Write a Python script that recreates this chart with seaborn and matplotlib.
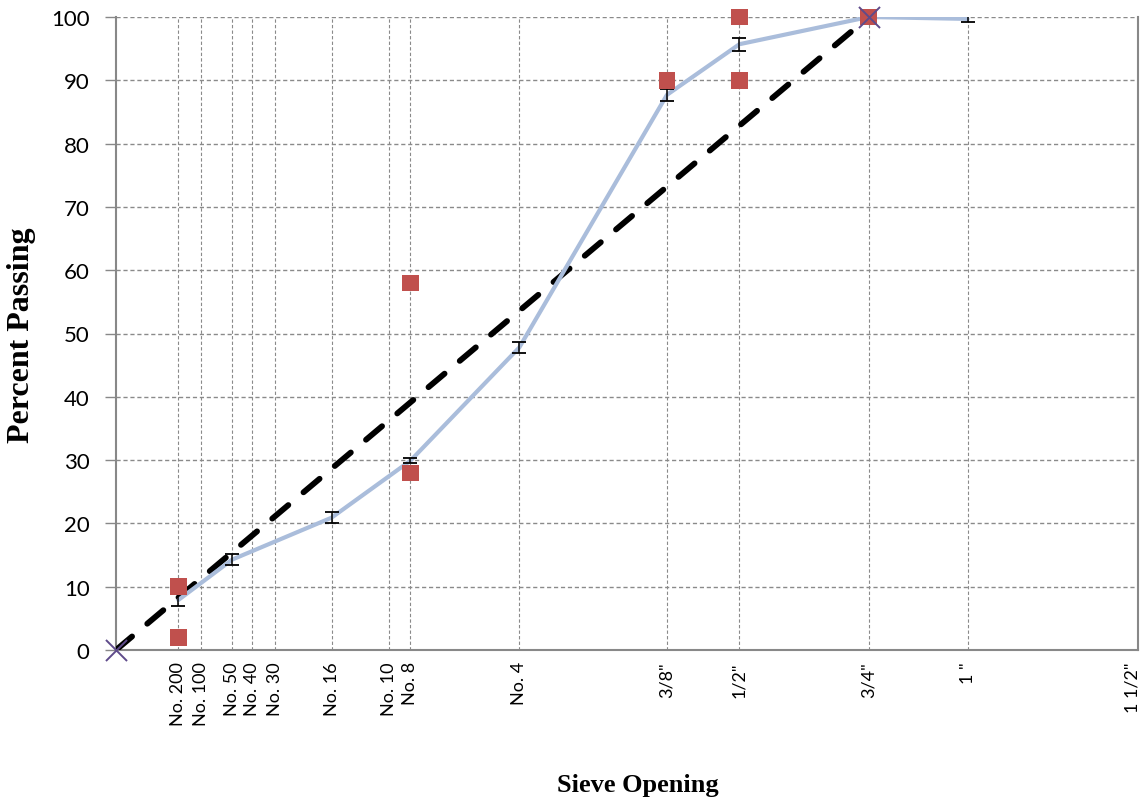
import numpy as np
import pandas as pd
import matplotlib
matplotlib.use("Agg")
import matplotlib.pyplot as plt
import matplotlib.transforms as mtransforms
import seaborn as sns

# Sieve sizes (mm) and their labels
sieve_labels = ["No. 200", "No. 100", "No. 50", "No. 40", "No. 30", "No. 16",
                "No. 10", "No. 8", "No. 4", '3/8"', '1/2"', '3/4"', '1 "', '1 1/2"']
sieve_mm = [0.075, 0.15, 0.3, 0.425, 0.6, 1.18, 2.0, 2.36, 4.75, 9.5, 12.5,
            19.0, 25.0, 37.5]

# Blend gradation (mean percent passing and spread)
grad_mm = [0.075, 0.3, 1.18, 2.36, 4.75, 9.5, 12.5, 19.0, 25.0]
grad_pass = [7.9, 14.3, 20.9, 29.9, 47.8, 87.7, 95.7, 100.0, 99.7]
grad_err = [1.0, 0.9, 0.9, 0.4, 0.9, 1.0, 1.0, 0.0, 0.5]

# Specification control points
ctrl_mm = [0.075, 0.075, 2.36, 2.36, 9.5, 12.5, 12.5, 19.0]
ctrl_pass = [2, 10, 28, 58, 90, 90, 100, 100]

# Maximum density line end points
mdl_mm = [0.0, 19.0]
mdl_pass = [0, 100]

grad_df = pd.DataFrame({"size": grad_mm, "passing": grad_pass, "err": grad_err})
ctrl_df = pd.DataFrame({"size": ctrl_mm, "passing": ctrl_pass})
mdl_df = pd.DataFrame({"size": mdl_mm, "passing": mdl_pass})

sns.set_style("white")
plt.rcParams["font.family"] = ["Lato", "DejaVu Sans"]
plt.rcParams["text.color"] = "black"
plt.rcParams["axes.labelcolor"] = "black"

fig = plt.figure(figsize=(11.42, 8.03), dpi=100)
ax = fig.add_axes([116 / 1142, 1 - 651 / 803, (1138 - 116) / 1142, (651 - 18) / 803])

# 0.45 power scale on the sieve axis
ax.set_xscale("function",
              functions=(lambda x: np.sign(x) * np.abs(x) ** 0.45,
                         lambda x: np.sign(x) * np.abs(x) ** (1 / 0.45)))

for y in range(10, 101, 10):
    ax.axhline(y, zorder=0, color="#8a8a8a", linestyle=(0, (3, 2)), linewidth=1.0)
for s in sieve_mm[:-1]:
    ax.axvline(s, zorder=0, color="#8a8a8a", linestyle=(0, (3, 2)), linewidth=0.8)

# Maximum density line
sns.lineplot(data=mdl_df, x="size", y="passing", ax=ax, color="black",
             linewidth=4.2, zorder=3, estimator=None, sort=False)
ax.lines[-1].set_dashes((3.6, 3.4))
ax.lines[-1].set_dash_capstyle("round")

# Blend gradation with error bars
sns.lineplot(data=grad_df, x="size", y="passing", ax=ax, color="#aabddb",
             linewidth=3.0, zorder=4, estimator=None, sort=False)
ax.errorbar(grad_df["size"], grad_df["passing"], yerr=grad_df["err"], fmt="none",
            ecolor="black", elinewidth=1.1, capsize=5, capthick=1.3, zorder=5)

# Control points
sns.scatterplot(data=ctrl_df, x="size", y="passing", ax=ax, color="#c0504d",
                marker="s", s=140, edgecolor="none", zorder=6, clip_on=False)

# End points of the maximum density line
ax.scatter(mdl_mm, mdl_pass, marker="x", s=230, color="#5f4b8b", linewidth=1.4,
           zorder=7, clip_on=False)

ax.set_xlim(0, 37.5)
ax.set_ylim(0, 100)
ax.set_xticks(sieve_mm)
ax.set_xticklabels(sieve_labels, rotation=90, fontsize=13)
ax.set_yticks(range(0, 101, 10))
ax.tick_params(axis="y", labelsize=16, length=8, width=1, color="#888888",
               labelcolor="black", direction="out", left=True, pad=11)
ax.tick_params(axis="x", length=0, pad=8, labelcolor="black")

# keep the last sieve label inside the figure
last = ax.get_xticklabels()[-1]
last.set_transform(last.get_transform() +
                   mtransforms.ScaledTranslation(-6 / 100, 0, fig.dpi_scale_trans))

for side in ["left", "bottom", "right"]:
    ax.spines[side].set_color("#888888")
    ax.spines[side].set_linewidth(1.5)
ax.spines["top"].set_visible(False)

ax.set_xlabel("Sieve Opening", family="Liberation Serif", fontweight="bold",
              fontsize=19)
ax.set_ylabel("Percent Passing", family="Liberation Serif", fontweight="bold",
              fontsize=23)
ax.xaxis.set_label_coords((638 - 116) / (1138 - 116), -(774 - 651) / (651 - 18))
ax.yaxis.set_label_coords(-(116 - 36) / (1138 - 116), (651 - 335) / (651 - 18))

fig.savefig("out.png", dpi=100)
